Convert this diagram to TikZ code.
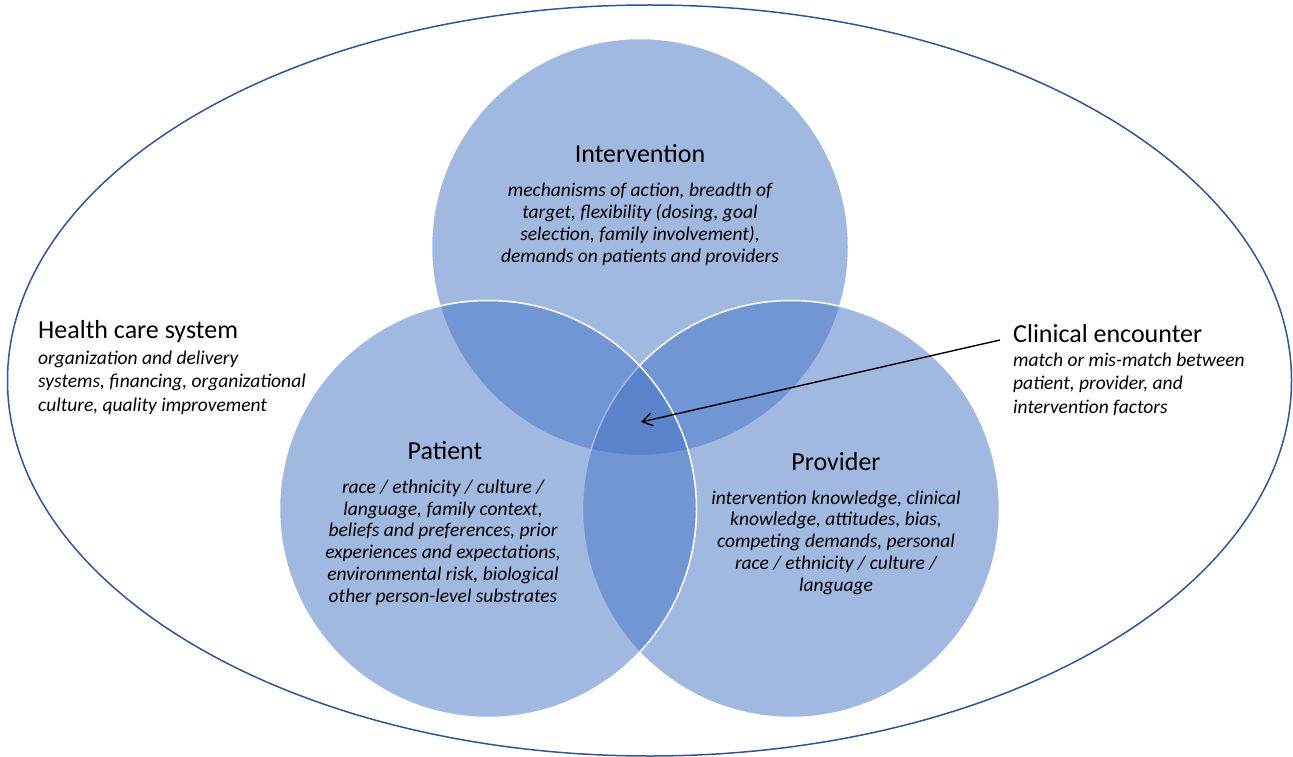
\documentclass[tikz,border=0pt]{standalone}
\usepackage{fontspec}
\setmainfont{Carlito}
\usetikzlibrary{positioning,arrows.meta}
\definecolor{accentblue}{HTML}{4472C4}
\definecolor{rimblue}{HTML}{2F5597}
\begin{document}
\begin{tikzpicture}[
  x=1pt, y=-1pt,
  every node/.style={inner sep=0pt},
  venn/.style={circle, minimum size=417pt, fill=accentblue, fill opacity=.5,
    draw=white, line width=1.5pt}
]
\tikzset{
  head/.style={font=\fontsize{26}{30}\selectfont},
  desc/.style={font=\fontsize{19.5}{21.7}\selectfont\itshape, align=center},
  sidedesc/.style={font=\fontsize{19.5}{23.5}\selectfont\itshape, align=left},
  pointer/.style={draw=black, line width=1.4pt, -{Straight Barb[length=10pt,width=13pt]}}
}
\useasboundingbox (0,0) rectangle (1293,757);
\draw[rimblue, line width=1.5pt] (649.5,380.5) ellipse [x radius=642pt, y radius=375.5pt];
% circles: intervention first, patient on top
\node[venn] (intervcirc) at (640,247) {};
\node[venn] (providercirc) at (791,509) {};
\node[venn] (patientcirc) at (488,509) {};

% text blocks sit on the baseline of their last line
\node[head, anchor=base] (interv) at (640,163) {Intervention};
\node[desc, anchor=base] (intervtxt) at (640,262) {mechanisms of action, breadth of\\
  target, flexibility (dosing, goal\\ selection, family involvement),\\
  demands on patients and providers};

\node[head, anchor=base] (patient) at (445,459) {Patient};
\node[desc, anchor=base] (patienttxt) at (443,602) {race / ethnicity / culture /\\
  language, family context,\\ beliefs and preferences, prior\\
  experiences and expectations,\\ environmental risk, biological\\
  other person-level substrates};

\node[head, anchor=base] (provider) at (836,470) {Provider};
\node[desc, anchor=base] (providertxt) at (836,591) {intervention knowledge, clinical\\
  knowledge, attitudes, bias,\\ competing demands, personal\\
  race / ethnicity / culture /\\ language};

\node[head, anchor=base west] (system) at (38,338) {Health care system};
\node[sidedesc, anchor=base west] (systemtxt) at (38,411) {organization and delivery\\
  systems, financing, organizational\\ culture, quality improvement};

\node[head, anchor=base west] (clinical) at (1013,342) {Clinical encounter};
\node[sidedesc, anchor=base west] (clinicaltxt) at (1013,413) {match or mis-match between\\
  patient, provider, and\\ intervention factors};

\coordinate (core) at (641,422);
\draw[pointer] ([xshift=-13pt,yshift=2pt]clinical.base west) -- (core);
\end{tikzpicture}
\end{document}
